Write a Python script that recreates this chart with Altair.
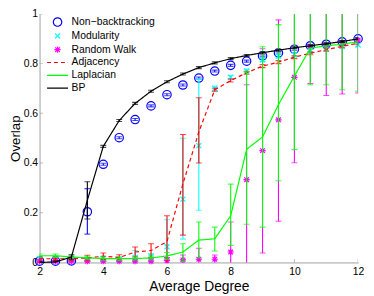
import altair as alt
import pandas as pd

degree = [2, 2.5, 3, 3.5, 4, 4.5, 5, 5.5, 6, 6.5, 7, 7.5, 8, 8.5, 9, 9.5, 10, 10.5, 11, 11.5, 12]
x_ticks = [2, 4, 6, 8, 10, 12]
y_ticks = [0, 0.2, 0.4, 0.6, 0.8, 1.0]

names = ["Non−backtracking", "Modularity", "Random Walk", "Adjacency", "Laplacian", "BP"]
colors = ["#0000ff", "#00ffff", "#ff00ff", "#ff0000", "#00ff00", "#000000"]

nb_val = [0.005, 0.005, 0.006, 0.204, 0.395, 0.502, 0.575, 0.630, 0.675, 0.714, 0.742, 0.770, 0.793, 0.810, 0.831, 0.843, 0.858, 0.872, 0.878, 0.888, 0.900]
nb_lo = [0.002, 0.002, 0.003, 0.114, 0.391, 0.498, 0.571, 0.626, 0.671, 0.710, 0.738, 0.766, 0.789, 0.806, 0.827, 0.839, 0.854, 0.868, 0.874, 0.884, 0.896]
nb_hi = [0.008, 0.008, 0.009, 0.297, 0.399, 0.506, 0.579, 0.634, 0.679, 0.718, 0.746, 0.774, 0.797, 0.814, 0.835, 0.847, 0.862, 0.876, 0.882, 0.892, 0.904]

mod_val = [0.015, 0.015, 0.012, 0.012, 0.015, 0.012, 0.020, 0.025, 0.063, 0.255, 0.470, 0.700, 0.745, 0.770, 0.815, 0.830, 0.835, 0.850, 0.860, 0.870, 0.875]
mod_lo = [0.005, 0.005, 0.004, 0.004, 0.005, 0.004, 0.005, 0.008, 0.020, 0.094, 0.210, 0.690, 0.738, 0.762, 0.808, 0.823, 0.828, 0.843, 0.853, 0.863, 0.868]
mod_hi = [0.025, 0.025, 0.020, 0.020, 0.025, 0.022, 0.048, 0.035, 0.172, 0.500, 0.740, 0.710, 0.752, 0.778, 0.822, 0.837, 0.842, 0.857, 0.867, 0.877, 0.882]

rw_val = [0.005, 0.005, 0.005, 0.005, 0.005, 0.005, 0.005, 0.005, 0.008, 0.010, 0.013, 0.013, 0.042, 0.333, 0.450, 0.574, 0.745, 0.870, 0.875, 0.885, 0.895]
rw_lo = [-0.005, -0.005, -0.005, -0.005, -0.005, -0.005, -0.005, -0.005, -0.005, -0.005, -0.005, -0.005, -0.080, -0.050, 0.038, 0.166, 0.401, 0.720, 0.672, 0.678, 0.682]
rw_hi = [0.015, 0.015, 0.015, 0.015, 0.015, 0.015, 0.015, 0.018, 0.020, 0.030, 0.057, 0.030, 0.163, 0.715, 0.860, 0.976, 1.090, 1.020, 1.080, 1.090, 1.110]

adj_val = [0.015, 0.015, 0.015, 0.018, 0.025, 0.020, 0.042, 0.048, 0.084, 0.316, 0.525, 0.695, 0.732, 0.763, 0.790, 0.806, 0.826, 0.842, 0.856, 0.870, 0.882]
adj_lo = [0.007, 0.007, 0.007, 0.007, 0.012, 0.009, 0.022, 0.021, -0.020, 0.110, 0.400, 0.689, 0.726, 0.757, 0.784, 0.800, 0.820, 0.836, 0.850, 0.864, 0.876]
adj_hi = [0.023, 0.023, 0.023, 0.029, 0.038, 0.031, 0.062, 0.075, 0.188, 0.515, 0.663, 0.701, 0.738, 0.769, 0.796, 0.812, 0.832, 0.848, 0.862, 0.876, 0.888]

lap_val = [0.027, 0.027, 0.022, 0.018, 0.016, 0.015, 0.016, 0.018, 0.026, 0.042, 0.090, 0.095, 0.188, 0.455, 0.505, 0.635, 0.750, 0.862, 0.872, 0.878, 0.888]
lap_lo = [0.020, 0.020, 0.015, 0.011, 0.009, 0.008, 0.009, 0.010, 0.012, 0.004, 0.018, 0.046, 0.068, 0.154, 0.142, 0.329, 0.454, 0.715, 0.715, 0.695, 0.689]
lap_hi = [0.034, 0.034, 0.029, 0.025, 0.023, 0.022, 0.023, 0.026, 0.040, 0.075, 0.163, 0.142, 0.315, 0.767, 0.868, 0.957, 1.050, 1.010, 1.030, 1.060, 1.090]

bp_val = [0.000, 0.002, 0.022, 0.250, 0.467, 0.571, 0.640, 0.689, 0.727, 0.758, 0.784, 0.803, 0.820, 0.833, 0.844, 0.854, 0.864, 0.872, 0.880, 0.889, 0.900]
bp_lo = [-0.004, -0.002, 0.013, 0.175, 0.463, 0.567, 0.636, 0.685, 0.723, 0.754, 0.780, 0.799, 0.816, 0.829, 0.840, 0.850, 0.860, 0.868, 0.876, 0.885, 0.896]
bp_hi = [0.004, 0.006, 0.031, 0.325, 0.471, 0.575, 0.644, 0.693, 0.731, 0.762, 0.788, 0.807, 0.824, 0.837, 0.848, 0.858, 0.868, 0.876, 0.884, 0.893, 0.904]

shapes = [
    "circle",
    "M-0.6,-0.6L0.6,0.6M-0.6,0.6L0.6,-0.6",
    "M-0.75,0L0.75,0M0,-0.75L0,0.75M-0.55,-0.55L0.55,0.55M-0.55,0.55L0.55,-0.55",
    "M-2.5,0L2.5,0",
    "M-2.5,0L2.5,0",
    "M-2.5,0L2.5,0",
]
dashes = [[1, 0], [1, 0], [1, 0], [4, 3], [1, 0], [1, 0]]

series = [
    (names[0], nb_val, nb_lo, nb_hi, colors[0], "point"),
    (names[1], mod_val, mod_lo, mod_hi, colors[1], "point"),
    (names[2], rw_val, rw_lo, rw_hi, colors[2], "point"),
    (names[3], adj_val, adj_lo, adj_hi, colors[3], "line"),
    (names[4], lap_val, lap_lo, lap_hi, colors[4], "line"),
    (names[5], bp_val, bp_lo, bp_hi, colors[5], "line"),
]

FONT = "Liberation Sans"
x_scale = alt.Scale(domain=[2, 12], nice=False, zero=False)
y_scale = alt.Scale(domain=[0, 1], nice=False, zero=False)
x_axis = alt.Axis(values=x_ticks, format="~g", labelFlush=False)
y_axis = alt.Axis(values=y_ticks, format="~g", labelFlush=False)

leg = alt.Legend(
    title=None, orient="none", legendX=13, legendY=3,
    labelFont=FONT, labelFontSize=10.5, labelColor="black",
    symbolSize=72, symbolStrokeWidth=1.2, labelOffset=9,
    padding=0, rowPadding=2, symbolFillColor="transparent",
)

def X():
    return alt.X("degree:Q", scale=x_scale, axis=x_axis, title="Average Degree")

def Y(field):
    return alt.Y(field, scale=y_scale, axis=y_axis, title="Overlap")

C = alt.Color("series:N", scale=alt.Scale(domain=names, range=colors), legend=leg)
S = alt.Shape("series:N", scale=alt.Scale(domain=names, range=shapes), legend=leg)
D = alt.StrokeDash("series:N", scale=alt.Scale(domain=names, range=dashes), legend=leg)

layers = []

tick_df_x = pd.DataFrame({"t": x_ticks, "z": [0] * len(x_ticks)})
tick_df_y = pd.DataFrame({"t": y_ticks, "z": [2] * len(y_ticks)})
layers.append(
    alt.Chart(tick_df_x).mark_tick(orient="vertical", size=7, thickness=1, color="#a0a0a0", clip=True)
    .encode(x=alt.X("t:Q", scale=x_scale, axis=x_axis, title="Average Degree"),
            y=alt.Y("z:Q", scale=y_scale, axis=y_axis, title="Overlap"))
)
layers.append(
    alt.Chart(tick_df_y).mark_tick(orient="horizontal", size=7, thickness=1, color="#a0a0a0", clip=True)
    .encode(x=alt.X("z:Q", scale=x_scale, axis=x_axis, title="Average Degree"),
            y=alt.Y("t:Q", scale=y_scale, axis=y_axis, title="Overlap"))
)

for name, val, lo, hi, color, kind in series:
    df = pd.DataFrame({"degree": degree, "value": val, "lo": lo, "hi": hi, "series": name})
    base = alt.Chart(df)
    layers.append(
        base.mark_rule(color=color, strokeWidth=1.1, clip=True)
        .encode(x=X(), y=Y("lo:Q"), y2="hi:Q")
    )
    layers.append(
        base.mark_tick(color=color, orient="horizontal", size=6, thickness=1.1, clip=True)
        .encode(x=X(), y=Y("lo:Q"))
    )
    layers.append(
        base.mark_tick(color=color, orient="horizontal", size=6, thickness=1.1, clip=True)
        .encode(x=X(), y=Y("hi:Q"))
    )
    if kind == "point":
        layers.append(
            base.mark_point(filled=False, size=72, strokeWidth=1.2, opacity=1)
            .encode(x=X(), y=Y("value:Q"), color=C, shape=S)
        )
    else:
        layers.append(
            base.mark_line(strokeWidth=1.2)
            .encode(x=X(), y=Y("value:Q"), color=C, strokeDash=D)
        )

chart = (
    alt.layer(*layers)
    .properties(
        width=323, height=252,
        autosize=alt.AutoSizeParams(type="none"),
        padding={"left": 32, "top": 4, "right": 8, "bottom": 31},
        background="white",
    )
    .configure_view(strokeWidth=0)
    .configure_axis(
        grid=False, ticks=False,
        domainColor="#a0a0a0", domainWidth=1,
        labelFont=FONT, labelFontSize=10.5, labelColor="black",
        titleFont=FONT, titleFontSize=13.5, titleFontWeight="normal", titleColor="black",
    )
    .configure_axisX(labelPadding=4, titlePadding=3, titleFontSize=14)
    .configure_axisY(labelPadding=2, titlePadding=1)
)

chart.save("out.html", embed_options={"renderer": "svg", "actions": False})
